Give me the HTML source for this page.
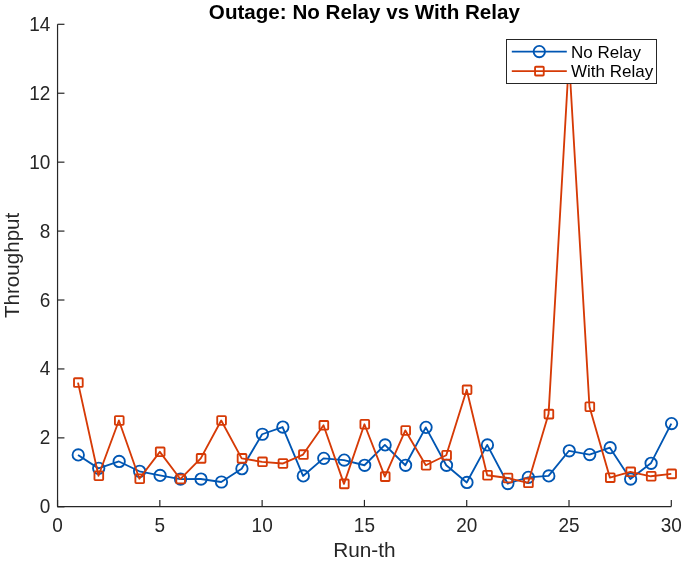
<!DOCTYPE html>
<html><head><meta charset="utf-8"><style>
html,body{margin:0;padding:0;background:#fff;}
svg{display:block;font-family:"Liberation Sans",sans-serif;}
</style></head><body>
<div style="will-change:transform"><svg width="685" height="561" viewBox="0 0 685 561">
<rect width="685" height="561" fill="#fff"/>
<polyline points="78.01,454.93 98.47,468.36 118.92,461.47 139.38,471.29 159.84,475.42 180.30,479.11 200.76,479.04 221.22,482.00 241.68,468.71 262.13,434.25 282.59,427.02 303.05,475.94 323.51,458.37 343.97,460.09 364.43,465.26 384.88,444.93 405.34,465.26 425.80,427.37 446.26,465.26 466.72,482.49 487.18,444.93 507.63,483.52 528.09,477.32 548.55,475.94 569.01,450.79 589.47,454.58 609.92,447.69 630.38,479.04 650.84,463.30 671.30,423.58" fill="none" stroke="#0056B3" stroke-width="1.85" stroke-linejoin="round"/>
<circle cx="78.26" cy="454.93" r="5.7" fill="none" stroke="#0056B3" stroke-width="1.85"/>
<circle cx="98.72" cy="468.36" r="5.7" fill="none" stroke="#0056B3" stroke-width="1.85"/>
<circle cx="119.17" cy="461.47" r="5.7" fill="none" stroke="#0056B3" stroke-width="1.85"/>
<circle cx="139.63" cy="471.29" r="5.7" fill="none" stroke="#0056B3" stroke-width="1.85"/>
<circle cx="160.09" cy="475.42" r="5.7" fill="none" stroke="#0056B3" stroke-width="1.85"/>
<circle cx="180.55" cy="479.11" r="5.7" fill="none" stroke="#0056B3" stroke-width="1.85"/>
<circle cx="201.01" cy="479.04" r="5.7" fill="none" stroke="#0056B3" stroke-width="1.85"/>
<circle cx="221.47" cy="482.00" r="5.7" fill="none" stroke="#0056B3" stroke-width="1.85"/>
<circle cx="241.93" cy="468.71" r="5.7" fill="none" stroke="#0056B3" stroke-width="1.85"/>
<circle cx="262.38" cy="434.25" r="5.7" fill="none" stroke="#0056B3" stroke-width="1.85"/>
<circle cx="282.84" cy="427.02" r="5.7" fill="none" stroke="#0056B3" stroke-width="1.85"/>
<circle cx="303.30" cy="475.94" r="5.7" fill="none" stroke="#0056B3" stroke-width="1.85"/>
<circle cx="323.76" cy="458.37" r="5.7" fill="none" stroke="#0056B3" stroke-width="1.85"/>
<circle cx="344.22" cy="460.09" r="5.7" fill="none" stroke="#0056B3" stroke-width="1.85"/>
<circle cx="364.68" cy="465.26" r="5.7" fill="none" stroke="#0056B3" stroke-width="1.85"/>
<circle cx="385.13" cy="444.93" r="5.7" fill="none" stroke="#0056B3" stroke-width="1.85"/>
<circle cx="405.59" cy="465.26" r="5.7" fill="none" stroke="#0056B3" stroke-width="1.85"/>
<circle cx="426.05" cy="427.37" r="5.7" fill="none" stroke="#0056B3" stroke-width="1.85"/>
<circle cx="446.51" cy="465.26" r="5.7" fill="none" stroke="#0056B3" stroke-width="1.85"/>
<circle cx="466.97" cy="482.49" r="5.7" fill="none" stroke="#0056B3" stroke-width="1.85"/>
<circle cx="487.43" cy="444.93" r="5.7" fill="none" stroke="#0056B3" stroke-width="1.85"/>
<circle cx="507.88" cy="483.52" r="5.7" fill="none" stroke="#0056B3" stroke-width="1.85"/>
<circle cx="528.34" cy="477.32" r="5.7" fill="none" stroke="#0056B3" stroke-width="1.85"/>
<circle cx="548.80" cy="475.94" r="5.7" fill="none" stroke="#0056B3" stroke-width="1.85"/>
<circle cx="569.26" cy="450.79" r="5.7" fill="none" stroke="#0056B3" stroke-width="1.85"/>
<circle cx="589.72" cy="454.58" r="5.7" fill="none" stroke="#0056B3" stroke-width="1.85"/>
<circle cx="610.17" cy="447.69" r="5.7" fill="none" stroke="#0056B3" stroke-width="1.85"/>
<circle cx="630.63" cy="479.04" r="5.7" fill="none" stroke="#0056B3" stroke-width="1.85"/>
<circle cx="651.09" cy="463.30" r="5.7" fill="none" stroke="#0056B3" stroke-width="1.85"/>
<circle cx="671.55" cy="423.58" r="5.7" fill="none" stroke="#0056B3" stroke-width="1.85"/>
<polyline points="78.01,382.58 98.47,475.77 118.92,420.48 139.38,478.70 159.84,451.82 180.30,479.04 200.76,458.37 221.22,420.48 241.68,458.37 262.13,461.81 282.59,463.54 303.05,454.58 323.51,425.30 343.97,483.86 364.43,424.26 384.88,476.63 405.34,430.47 425.80,465.26 446.26,455.27 466.72,389.81 487.18,475.25 507.63,478.01 528.09,482.83 548.55,414.10 569.01,58.75 589.47,406.70 609.92,477.66 630.38,471.81 650.84,476.28 671.30,473.87" fill="none" stroke="#D63A06" stroke-width="1.85" stroke-linejoin="round"/>
<rect x="74.01" y="378.23" width="8.7" height="8.7" fill="none" stroke="#D63A06" stroke-width="1.85" stroke-linejoin="round" rx="0.8"/>
<rect x="94.47" y="471.42" width="8.7" height="8.7" fill="none" stroke="#D63A06" stroke-width="1.85" stroke-linejoin="round" rx="0.8"/>
<rect x="114.92" y="416.12" width="8.7" height="8.7" fill="none" stroke="#D63A06" stroke-width="1.85" stroke-linejoin="round" rx="0.8"/>
<rect x="135.38" y="474.35" width="8.7" height="8.7" fill="none" stroke="#D63A06" stroke-width="1.85" stroke-linejoin="round" rx="0.8"/>
<rect x="155.84" y="447.47" width="8.7" height="8.7" fill="none" stroke="#D63A06" stroke-width="1.85" stroke-linejoin="round" rx="0.8"/>
<rect x="176.30" y="474.69" width="8.7" height="8.7" fill="none" stroke="#D63A06" stroke-width="1.85" stroke-linejoin="round" rx="0.8"/>
<rect x="196.76" y="454.02" width="8.7" height="8.7" fill="none" stroke="#D63A06" stroke-width="1.85" stroke-linejoin="round" rx="0.8"/>
<rect x="217.22" y="416.12" width="8.7" height="8.7" fill="none" stroke="#D63A06" stroke-width="1.85" stroke-linejoin="round" rx="0.8"/>
<rect x="237.68" y="454.02" width="8.7" height="8.7" fill="none" stroke="#D63A06" stroke-width="1.85" stroke-linejoin="round" rx="0.8"/>
<rect x="258.13" y="457.46" width="8.7" height="8.7" fill="none" stroke="#D63A06" stroke-width="1.85" stroke-linejoin="round" rx="0.8"/>
<rect x="278.59" y="459.19" width="8.7" height="8.7" fill="none" stroke="#D63A06" stroke-width="1.85" stroke-linejoin="round" rx="0.8"/>
<rect x="299.05" y="450.23" width="8.7" height="8.7" fill="none" stroke="#D63A06" stroke-width="1.85" stroke-linejoin="round" rx="0.8"/>
<rect x="319.51" y="420.95" width="8.7" height="8.7" fill="none" stroke="#D63A06" stroke-width="1.85" stroke-linejoin="round" rx="0.8"/>
<rect x="339.97" y="479.51" width="8.7" height="8.7" fill="none" stroke="#D63A06" stroke-width="1.85" stroke-linejoin="round" rx="0.8"/>
<rect x="360.43" y="419.91" width="8.7" height="8.7" fill="none" stroke="#D63A06" stroke-width="1.85" stroke-linejoin="round" rx="0.8"/>
<rect x="380.88" y="472.28" width="8.7" height="8.7" fill="none" stroke="#D63A06" stroke-width="1.85" stroke-linejoin="round" rx="0.8"/>
<rect x="401.34" y="426.12" width="8.7" height="8.7" fill="none" stroke="#D63A06" stroke-width="1.85" stroke-linejoin="round" rx="0.8"/>
<rect x="421.80" y="460.91" width="8.7" height="8.7" fill="none" stroke="#D63A06" stroke-width="1.85" stroke-linejoin="round" rx="0.8"/>
<rect x="442.26" y="450.92" width="8.7" height="8.7" fill="none" stroke="#D63A06" stroke-width="1.85" stroke-linejoin="round" rx="0.8"/>
<rect x="462.72" y="385.46" width="8.7" height="8.7" fill="none" stroke="#D63A06" stroke-width="1.85" stroke-linejoin="round" rx="0.8"/>
<rect x="483.18" y="470.90" width="8.7" height="8.7" fill="none" stroke="#D63A06" stroke-width="1.85" stroke-linejoin="round" rx="0.8"/>
<rect x="503.63" y="473.66" width="8.7" height="8.7" fill="none" stroke="#D63A06" stroke-width="1.85" stroke-linejoin="round" rx="0.8"/>
<rect x="524.09" y="478.48" width="8.7" height="8.7" fill="none" stroke="#D63A06" stroke-width="1.85" stroke-linejoin="round" rx="0.8"/>
<rect x="544.55" y="409.75" width="8.7" height="8.7" fill="none" stroke="#D63A06" stroke-width="1.85" stroke-linejoin="round" rx="0.8"/>
<rect x="565.01" y="54.40" width="8.7" height="8.7" fill="none" stroke="#D63A06" stroke-width="1.85" stroke-linejoin="round" rx="0.8"/>
<rect x="585.47" y="402.35" width="8.7" height="8.7" fill="none" stroke="#D63A06" stroke-width="1.85" stroke-linejoin="round" rx="0.8"/>
<rect x="605.92" y="473.31" width="8.7" height="8.7" fill="none" stroke="#D63A06" stroke-width="1.85" stroke-linejoin="round" rx="0.8"/>
<rect x="626.38" y="467.46" width="8.7" height="8.7" fill="none" stroke="#D63A06" stroke-width="1.85" stroke-linejoin="round" rx="0.8"/>
<rect x="646.84" y="471.93" width="8.7" height="8.7" fill="none" stroke="#D63A06" stroke-width="1.85" stroke-linejoin="round" rx="0.8"/>
<rect x="667.30" y="469.52" width="8.7" height="8.7" fill="none" stroke="#D63A06" stroke-width="1.85" stroke-linejoin="round" rx="0.8"/>
<g stroke="#262626" stroke-width="1.2" fill="none">
<path d="M57.55,24.3 V506.65 H671.3"/>
<path d="M57.55,506.80 h6.9"/>
<path d="M57.55,437.87 h6.9"/>
<path d="M57.55,368.94 h6.9"/>
<path d="M57.55,300.01 h6.9"/>
<path d="M57.55,231.09 h6.9"/>
<path d="M57.55,162.16 h6.9"/>
<path d="M57.55,93.23 h6.9"/>
<path d="M57.55,24.30 h6.9"/>
<path d="M57.55,506.6 v-6.7"/>
<path d="M159.84,506.6 v-6.7"/>
<path d="M262.13,506.6 v-6.7"/>
<path d="M364.43,506.6 v-6.7"/>
<path d="M466.72,506.6 v-6.7"/>
<path d="M569.01,506.6 v-6.7"/>
<path d="M671.30,506.6 v-6.7"/>
</g>
<g fill="#262626" font-size="19">
<text transform="translate(50.25,513) scale(1,1.03)" text-anchor="end">0</text>
<text transform="translate(50.25,444) scale(1,1.03)" text-anchor="end">2</text>
<text transform="translate(50.25,375) scale(1,1.03)" text-anchor="end">4</text>
<text transform="translate(50.25,307) scale(1,1.03)" text-anchor="end">6</text>
<text transform="translate(50.25,238) scale(1,1.03)" text-anchor="end">8</text>
<text transform="translate(50.25,169) scale(1,1.03)" text-anchor="end">10</text>
<text transform="translate(50.25,100) scale(1,1.03)" text-anchor="end">12</text>
<text transform="translate(50.25,31) scale(1,1.03)" text-anchor="end">14</text>
<text transform="translate(57.55,532) scale(1,1.03)" text-anchor="middle">0</text>
<text transform="translate(159.84,532) scale(1,1.03)" text-anchor="middle">5</text>
<text transform="translate(262.13,532) scale(1,1.03)" text-anchor="middle">10</text>
<text transform="translate(364.43,532) scale(1,1.03)" text-anchor="middle">15</text>
<text transform="translate(466.72,532) scale(1,1.03)" text-anchor="middle">20</text>
<text transform="translate(569.01,532) scale(1,1.03)" text-anchor="middle">25</text>
<text transform="translate(671.30,532) scale(1,1.03)" text-anchor="middle">30</text>
</g>
<text x="364.42" y="556.6" text-anchor="middle" font-size="20.8" fill="#262626">Run-th</text>
<text transform="translate(19.2,265.4) rotate(-90)" text-anchor="middle" font-size="20.6" fill="#262626">Throughput</text>
<text x="364.42" y="19" text-anchor="middle" font-size="20.6" font-weight="bold" fill="#000">Outage: No Relay vs With Relay</text>
<rect x="506.5" y="39.5" width="150" height="44" fill="#fff" stroke="#262626" stroke-width="1"/>
<path d="M511.8,51.6 H566.8" stroke="#0056B3" stroke-width="1.85"/>
<circle cx="539.3" cy="51.6" r="5.7" fill="none" stroke="#0056B3" stroke-width="1.85"/>
<path d="M511.8,71.1 H566.8" stroke="#D63A06" stroke-width="1.85"/>
<rect x="535.05" y="66.75" width="8.7" height="8.7" fill="none" stroke="#D63A06" stroke-width="1.85" stroke-linejoin="round" rx="0.8"/>
<g fill="#000" font-size="17">
<text x="571" y="58">No Relay</text>
<text x="571" y="77.2">With Relay</text>
</g>
</svg></div></body></html>
